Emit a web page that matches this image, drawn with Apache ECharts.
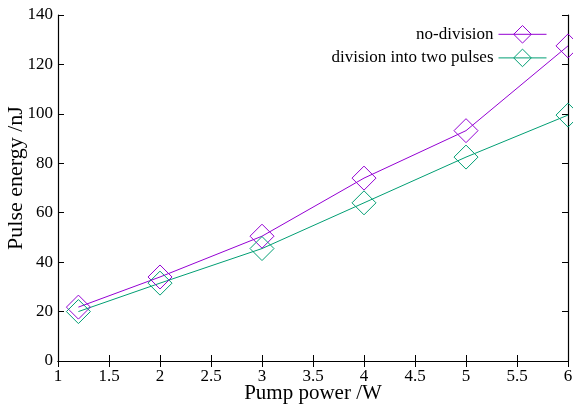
<!DOCTYPE html>
<html><head><meta charset="utf-8">
<script src="https://cdn.jsdelivr.net/npm/echarts@6/dist/echarts.min.js"></script>
<style>html,body{margin:0;padding:0;background:#fff}#c{width:573px;height:407px}</style>
</head><body><div id="c"></div>
<script>
const pumpPower = [1.2, 2, 3, 4, 5, 6];
const noDivision = [21.8, 34, 50.5, 74, 93.2, 127.5];
const twoPulses = [20, 31.5, 45.5, 64, 82.5, 99.5];
const xTicks = [1, 1.5, 2, 2.5, 3, 3.5, 4, 4.5, 5, 5.5, 6];
const yTicks = [0, 20, 40, 60, 80, 100, 120, 140];

const font = 'Liberation Serif';
const colors = ['#9400d3', '#009e73'];
const names = ['no-division', 'division into two pulses'];
const chart = echarts.init(document.getElementById('c'));
const axisLine = {show: true, lineStyle: {color: '#000', width: 1.2}};
const tick = {show: true, inside: true, length: 6, lineStyle: {color: '#000'}};
const mk = (name, vals, color) => ({
  name, type: 'line', data: pumpPower.map((x, i) => [x, vals[i]]),
  symbol: 'diamond', symbolSize: [24, 24], showSymbol: true,
  lineStyle: {color, width: 1}, itemStyle: {color: 'rgba(255,255,255,0)', borderColor: color, borderWidth: 1},
  color, z: 3
});
chart.setOption({
  animation: false,
  textStyle: {fontFamily: font},
  grid: {left: 58, right: 5, top: 15, bottom: 46, containLabel: false, outerBoundsMode: 'none'},
  legend: {
    orient: 'vertical', right: 21, top: 20, align: 'right', itemGap: 5,
    itemWidth: 48, itemHeight: 22,
    textStyle: {fontFamily: font, fontSize: 17, color: '#000'},
    data: names.map((n, i) => ({
      name: n,
      itemStyle: {color: 'rgba(255,255,255,0)', borderColor: colors[i], borderWidth: 1},
      lineStyle: {color: colors[i], width: 1}
    }))
  },
  xAxis: [{
    type: 'value', min: xTicks[0], max: xTicks[xTicks.length - 1], interval: 0.5,
    name: 'Pump power /W', nameLocation: 'middle', nameGap: 22, nameMoveOverlap: false,
    nameTextStyle: {fontFamily: font, fontSize: 21, color: '#000'},
    axisLine, axisTick: tick,
    axisLabel: {fontFamily: font, fontSize: 17, color: '#000', margin: 7},
    splitLine: {show: false}
  }, {
    type: 'value', position: 'top', min: xTicks[0], max: xTicks[xTicks.length - 1], interval: 0.5,
    axisLine, axisTick: tick, axisLabel: {show: false}, splitLine: {show: false}
  }],
  yAxis: [{
    type: 'value', min: yTicks[0], max: yTicks[yTicks.length - 1], interval: 20,
    name: 'Pulse energy /nJ', nameLocation: 'middle', nameGap: 31, nameMoveOverlap: false,
    nameTextStyle: {fontFamily: font, fontSize: 22, color: '#000', padding: [0, 0, 0, 20]},
    axisLine, axisTick: tick,
    axisLabel: {fontFamily: font, fontSize: 17, color: '#000', margin: 5},
    splitLine: {show: false}
  }, {
    type: 'value', position: 'right', min: yTicks[0], max: yTicks[yTicks.length - 1], interval: 20,
    axisLine, axisTick: tick, axisLabel: {show: false}, splitLine: {show: false}
  }],
  series: [mk(names[0], noDivision, colors[0]), mk(names[1], twoPulses, colors[1])]
});
</script></body></html>
